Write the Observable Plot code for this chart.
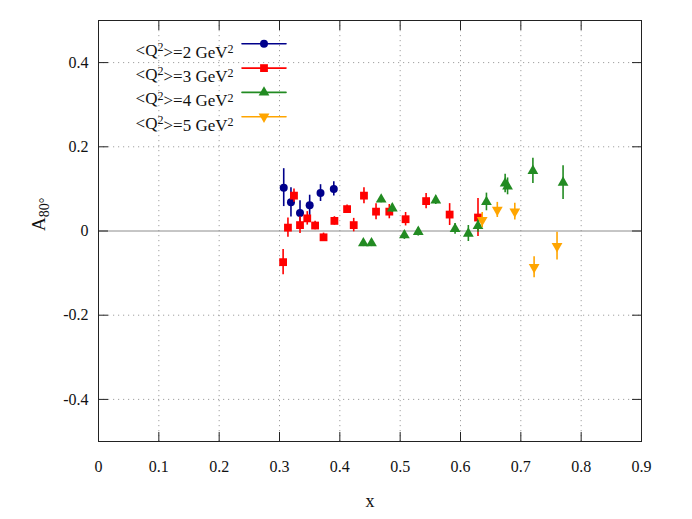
<!DOCTYPE html>
<html>
<head>
<meta charset="utf-8">
<script src="https://cdn.jsdelivr.net/npm/d3@7"></script>
<script src="https://cdn.jsdelivr.net/npm/@observablehq/plot@0.6"></script>
<style>
  html, body { margin: 0; padding: 0; background: #fff; }
  #chart { width: 692px; height: 519px; }
  #chart svg, #chart svg text { font-family: 'Liberation Serif', 'DejaVu Serif', serif !important; font-variant-numeric: normal !important; }
</style>
</head>
<body>
<div id="chart"></div>
<script>
// ---- data ----
const x2 = [0.307, 0.319, 0.334, 0.350, 0.368, 0.390];
const y2 = [0.103, 0.068, 0.043, 0.061, 0.090, 0.100];
const e2 = [0.045, 0.035, 0.029, 0.024, 0.020, 0.017];

const x3 = [0.306, 0.314, 0.324, 0.334, 0.346, 0.359, 0.373, 0.391, 0.412, 0.423, 0.440, 0.460, 0.482, 0.509, 0.543, 0.582, 0.629];
const y3 = [-0.074, 0.008, 0.084, 0.014, 0.030, 0.013, -0.015, 0.024, 0.052, 0.014, 0.084, 0.046, 0.046, 0.028, 0.071, 0.039, 0.032];
const e3 = [0.030, 0.023, 0.016, 0.020, 0.016, 0.010, 0.010, 0.010, 0.010, 0.016, 0.019, 0.019, 0.017, 0.016, 0.018, 0.026, 0.045];

const x4 = [0.439, 0.4525, 0.4685, 0.487, 0.507, 0.530, 0.559, 0.591, 0.613, 0.629, 0.643, 0.674, 0.678, 0.720, 0.770];
const y4 = [-0.029, -0.029, 0.075, 0.054, -0.010, -0.002, 0.073, 0.005, -0.006, 0.012, 0.069, 0.113, 0.106, 0.143, 0.115];
const e4 = [0.008, 0.008, 0.008, 0.010, 0.010, 0.010, 0.010, 0.013, 0.019, 0.015, 0.021, 0.022, 0.020, 0.030, 0.040];

const x5 = [0.636, 0.661, 0.690, 0.722, 0.760];
const y5 = [0.026, 0.050, 0.046, -0.086, -0.036];
const e5 = [0.018, 0.018, 0.020, 0.025, 0.033];

const seriesQ2 = ["2", "3", "4", "5"];
const seriesColors = ["#00008b", "#ff0000", "#228b22", "#ffa500"];
const seriesSymbols = ["circle", "square", "triangle", "triangle"];
const seriesRotate = [0, 0, 0, 180];
const seriesR = [4, 4.4, 4, 4];

const xTicks = [0, 0.1, 0.2, 0.3, 0.4, 0.5, 0.6, 0.7, 0.8, 0.9];
const yTicks = [-0.4, -0.2, 0, 0.2, 0.4];
const xGrid = [0.1, 0.2, 0.3, 0.4, 0.5, 0.6, 0.7, 0.8];
const yGrid = [-0.4, -0.2, 0.2, 0.4];
const xLabel = "x";
const yLabel = "A80°";

// ---- build table ----
const raw = [[x2, y2, e2], [x3, y3, e3], [x4, y4, e4], [x5, y5, e5]];
const series = raw.map(([xs, ys, es], i) =>
  xs.map((x, j) => ({x, y: ys[j], e: es[j], s: i})));
const legendLabels = seriesQ2.map(q => `<Q2>=${q} GeV2`);

const fontFamily = "'Liberation Serif', 'DejaVu Serif', serif";
const fmt = d => d === 0 ? "0" : d.toFixed(1);
const marks = [
  Plot.gridX(xGrid, {stroke: "#a0a0a0", strokeOpacity: 1, strokeDasharray: "1.2,3.8"}),
  Plot.gridY(yGrid, {stroke: "#a0a0a0", strokeOpacity: 1, strokeDasharray: "1.2,3.8"}),
  Plot.ruleY([0], {stroke: "#8c8c8c", strokeWidth: 1}),
  // inward ticks on all four sides
  Plot.axisX({ticks: xTicks, tickSize: -9, tickFormat: () => "", label: null, anchor: "bottom", stroke: "#222"}),
  Plot.axisX({ticks: xTicks, tickSize: -9, tickFormat: () => "", label: null, anchor: "top", stroke: "#222"}),
  Plot.axisY({ticks: yTicks, tickSize: -10, tickFormat: () => "", label: null, anchor: "left", stroke: "#222"}),
  Plot.axisY({ticks: yTicks, tickSize: -10, tickFormat: () => "", label: null, anchor: "right", stroke: "#222"}),
  // tick labels
  Plot.axisX({ticks: xTicks, tickSize: 0, tickPadding: 19, label: null, anchor: "bottom",
    tickFormat: fmt, fontSize: 16, fontFamily, fill: "#111"}),
  Plot.axisY({ticks: yTicks, tickSize: 0, tickPadding: 10, label: null, anchor: "left",
    tickFormat: fmt, fontSize: 16, fontFamily, fill: "#111"}),
  Plot.frame({stroke: "#222", strokeWidth: 1}),
];

series.forEach((data, i) => {
  marks.push(Plot.ruleX(data, {x: "x", y1: d => d.y - d.e, y2: d => d.y + d.e,
    stroke: seriesColors[i], strokeWidth: 1.6}));
  marks.push(Plot.dot(data, {x: "x", y: "y", symbol: seriesSymbols[i], r: seriesR[i],
    fill: seriesColors[i], stroke: "none", rotate: seriesRotate[i]}));
});

// legend inside the frame
const legendTop = 23.3, legendStep = 24.3;
const lineShape = {draw(context, l) { context.moveTo(0, 0); context.lineTo(0, -l); }};
legendLabels.forEach((lab, i) => {
  const dy = legendTop + i * legendStep;
  marks.push(Plot.text([lab], {text: d => d, frameAnchor: "top-left", dx: 135, dy,
    textAnchor: "end", fontSize: 17, fontFamily, fill: "#111"}));
  marks.push(Plot.vector([lab], {frameAnchor: "top-left", dx: 143.5, dy, length: 44,
    rotate: 90, anchor: "start", shape: lineShape, stroke: seriesColors[i], strokeWidth: 1.6}));
  marks.push(Plot.dot([lab], {frameAnchor: "top-left", dx: 165.5, dy, symbol: seriesSymbols[i],
    r: seriesR[i], fill: seriesColors[i], stroke: "none", rotate: seriesRotate[i]}));
});

// axis titles
marks.push(Plot.text([xLabel], {text: d => d, frameAnchor: "bottom", dy: 65, fontSize: 18, fontFamily, fill: "#111"}));
marks.push(Plot.text([yLabel], {text: d => d, frameAnchor: "left", dx: -60, rotate: -90, fontSize: 19, fontFamily, fill: "#111"}));

const chart = Plot.plot({
  width: 692,
  height: 519,
  marginLeft: 98,
  marginRight: 51,
  marginTop: 20,
  marginBottom: 78,
  style: {fontFamily, fontSize: "16px", color: "#111", background: "#fff"},
  x: {domain: [0, 0.9]},
  y: {domain: [-0.5, 0.5]},
  marks
});
document.getElementById("chart").appendChild(chart);

// sub/superscripts as real text spans
d3.select(chart).selectAll("text").each(function() {
  const txt = this.textContent;
  const t = d3.select(this);
  if (txt === yLabel) {
    t.text(null);
    t.append("tspan").text("A");
    t.append("tspan").attr("dy", "0.35em").attr("font-size", "14px").text("80°");
  } else if (legendLabels.includes(txt)) {
    const q = seriesQ2[legendLabels.indexOf(txt)];
    t.text(null);
    t.append("tspan").text("<Q");
    t.append("tspan").attr("dy", "-0.4em").attr("font-size", "12px").text("2");
    t.append("tspan").attr("dy", "0.4em").text(`>=${q} GeV`);
    t.append("tspan").attr("dy", "-0.4em").attr("font-size", "12px").text("2");
  }
});
</script>
</body>
</html>
